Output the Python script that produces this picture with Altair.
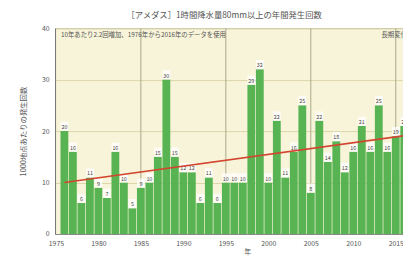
import altair as alt
import pandas as pd

years = list(range(1976, 2017))
counts = [20, 16, 6, 11, 9, 7, 16, 10, 5, 9,
          10, 15, 30, 15, 12, 12, 6, 11, 6, 10,
          10, 10, 29, 32, 10, 22, 11, 16, 25, 8,
          22, 14, 18, 12, 16, 21, 16, 25, 16, 19,
          21]
trend_years = [1976, 2016]
trend_vals = [10.0, 19.1]
decade_lines = [1985, 1995, 2005, 2015]
x_ticks = [1975, 1980, 1985, 1990, 1995, 2000, 2005, 2010, 2015]
y_ticks = [0, 5, 10, 15, 20, 25, 30, 35, 40]

title_text = "［アメダス］1時間降水量80mm以上の年間発生回数"
note_text = "10年あたり2.2回増加、1976年から2016年のデータを使用"
right_note = "長期変化傾向"
y_title = "1000地点あたりの発生回数"
x_title = "年"

FONT = "Noto Sans CJK JP"
XDOM = [1974.9, 2015.85]

df = pd.DataFrame({"year": years, "count": counts})
df["x0"] = df["year"] - 0.46
df["x1"] = df["year"] + 0.46
df["zero"] = 0
df["lab_top"] = df["count"] + 1.8
tr = pd.DataFrame({"year": trend_years, "v": trend_vals})
dl = pd.DataFrame({"year": decade_lines})

xscale = alt.Scale(domain=XDOM, nice=False, zero=False)
yscale = alt.Scale(domain=[0, 40], nice=False)

base = alt.Chart(df)

xaxis = alt.Axis(values=x_ticks, format="d", title=x_title, grid=False,
                 labelFontSize=7, titleFontSize=7, titleFontWeight="normal",
                 labelColor="#555", titleColor="#555", domainColor="#888",
                 ticks=False, labelPadding=6, titlePadding=1, titleX=196,
                 labelFont=FONT, titleFont=FONT, labelFlush=False)
yaxis = alt.Axis(values=y_ticks, title=y_title, grid=True, gridColor="#dcd5a8",
                 labelFontSize=7, titleFontSize=7.5, titleFontWeight="normal",
                 labelColor="#555", titleColor="#555", domainColor="#777",
                 ticks=False, labelPadding=6, titlePadding=14,
                 labelFont=FONT, titleFont=FONT)

bars = base.mark_rect(color="#58b453", clip=True).encode(
    x=alt.X("x0:Q", scale=xscale, axis=xaxis),
    x2="x1:Q",
    y=alt.Y("count:Q", scale=yscale, axis=yaxis, stack=None),
    y2="zero:Q",
)

vgrid = alt.Chart(dl).mark_rule(color="#a9a78a", strokeWidth=1, clip=True).encode(
    x=alt.X("year:Q", scale=xscale),
)

labbg = base.mark_rect(color="#ffffff", opacity=0.75, clip=True).encode(
    x=alt.X("x0:Q", scale=xscale), x2="x1:Q",
    y=alt.Y("lab_top:Q", scale=yscale), y2="count:Q",
)

labels = base.mark_text(fontSize=5.5, dy=-4, color="#444", font=FONT, clip=True).encode(
    x=alt.X("year:Q", scale=xscale),
    y=alt.Y("count:Q", scale=yscale),
    text="count:Q",
)

trend = alt.Chart(tr).mark_line(color="#d2452e", strokeWidth=1.6, clip=True).encode(
    x=alt.X("year:Q", scale=xscale),
    y=alt.Y("v:Q", scale=yscale),
)

note = alt.Chart(pd.DataFrame({"t": [note_text]})).mark_text(
    align="left", baseline="middle", fontSize=6.5, color="#555", font=FONT
).encode(x=alt.value(6), y=alt.value(7), text="t:N")

note2 = alt.Chart(pd.DataFrame({"t": [right_note]})).mark_text(
    align="left", baseline="middle", fontSize=6.5, color="#555", font=FONT
).encode(x=alt.value(333), y=alt.value(7), text="t:N")

chart = alt.layer(vgrid, bars, labbg, labels, trend, note, note2).properties(
    width=355, height=210,
    title=alt.TitleParams(title_text, fontSize=8.5, font=FONT, color="#555",
                          fontWeight="normal", anchor="middle", offset=5, dx=-5),
    autosize=alt.AutoSizeParams(type="none"),
    padding={"left": 48, "top": 18, "right": 0, "bottom": 26},
).configure_view(fill="#f8f4d9", stroke="#999", strokeWidth=1)

chart.save("out.html", embed_options={"renderer": "svg", "actions": False})
